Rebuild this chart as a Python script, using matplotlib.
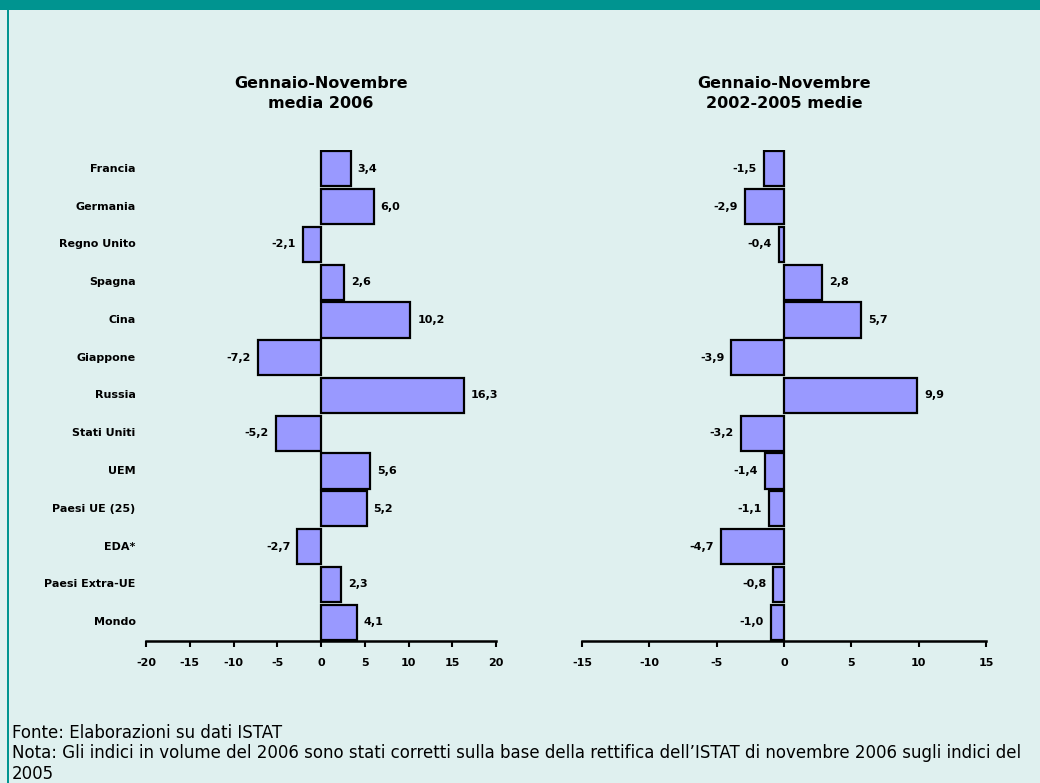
import matplotlib.pyplot as plt
from matplotlib.patches import Rectangle

# Data
paesi = ["Francia", "Germania", "Regno Unito", "Spagna", "Cina", "Giappone",
         "Russia", "Stati Uniti", "UEM", "Paesi UE (25)", "EDA*",
         "Paesi Extra-UE", "Mondo"]
media_2006 = [3.4, 6.0, -2.1, 2.6, 10.2, -7.2, 16.3, -5.2, 5.6, 5.2, -2.7, 2.3, 4.1]
media_2002_2005 = [-1.5, -2.9, -0.4, 2.8, 5.7, -3.9, 9.9, -3.2, -1.4, -1.1, -4.7, -0.8, -1.0]

titoli = ["Gennaio-Novembre\nmedia 2006", "Gennaio-Novembre\n2002-2005 medie"]
xlims = [(-20, 20), (-15, 15)]
xticks = [range(-20, 25, 5), range(-15, 20, 5)]

bg = "#dff0ef"
teal = "#009490"
bar_col = "#9999ff"

plt.rcParams["font.family"] = ["DejaVu Sans"]

fig = plt.figure(figsize=(10.4, 7.83), dpi=100)
fig.patch.set_facecolor(bg)

# frame: teal band on top, thin teal line on the left
fig.patches.append(Rectangle((0, 1 - 10 / 783), 1, 10 / 783, transform=fig.transFigure,
                             facecolor=teal, edgecolor="none", zorder=0))
fig.patches.append(Rectangle((7 / 1040, 0), 2 / 1040, 1, transform=fig.transFigure,
                             facecolor=teal, edgecolor="none", zorder=0))

bottom = 1 - 641 / 783
height = (641 - 150) / 783
ax1 = fig.add_axes([146 / 1040, bottom, 350 / 1040, height])
ax2 = fig.add_axes([582 / 1040, bottom, 404 / 1040, height])

y = list(range(len(paesi)))

for ax, vals, titolo, xl, xt in zip([ax1, ax2], [media_2006, media_2002_2005],
                                    titoli, xlims, xticks):
    ax.set_facecolor("none")
    ax.barh(y, vals, height=0.93, color=bar_col, edgecolor="black", linewidth=1.6)
    ax.set_xlim(*xl)
    ax.set_ylim(len(paesi) - 0.5, -0.5)
    ax.set_xticks(list(xt))
    ax.set_xticklabels([str(v) for v in xt], fontsize=8, fontweight="bold")
    ax.tick_params(axis="x", direction="out", length=4, width=1.5, pad=8)
    ax.set_yticks([])
    for s in ["left", "right", "top"]:
        ax.spines[s].set_visible(False)
    ax.spines["bottom"].set_linewidth(1.8)
    for yi, v in zip(y, vals):
        lab = f"{v:.1f}".replace(".", ",")
        if v >= 0:
            ax.annotate(lab, (v, yi), xytext=(5, 0), textcoords="offset points",
                        ha="left", va="center", fontsize=8, fontweight="bold")
        else:
            ax.annotate(lab, (v, yi), xytext=(-5, 0), textcoords="offset points",
                        ha="right", va="center", fontsize=8, fontweight="bold")
    ax.text(0.5, 1 + 39 / 491, titolo, transform=ax.transAxes, ha="center",
            va="bottom", fontsize=11.5, fontweight="bold", linespacing=1.4)

# category labels on the left chart
for yi, p in zip(y, paesi):
    ax1.annotate(p, (0, yi), xycoords=("axes fraction", "data"), xytext=(-7.5, 0),
                 textcoords="offset points", ha="right", va="center",
                 fontsize=8, fontweight="bold")

fig.text(12 / 1040, 1 - 733 / 783, "Fonte: Elaborazioni su dati ISTAT",
         ha="left", va="center", fontsize=12)
fig.text(12 / 1040, 1 - 753 / 783,
         "Nota: Gli indici in volume del 2006 sono stati corretti sulla base della "
         "rettifica dell\u2019ISTAT di novembre 2006 sugli indici del",
         ha="left", va="center", fontsize=12)
fig.text(12 / 1040, 1 - 774 / 783, "2005", ha="left", va="center", fontsize=12)

plt.savefig("out.png", dpi=100, facecolor=fig.get_facecolor())
plt.close()
